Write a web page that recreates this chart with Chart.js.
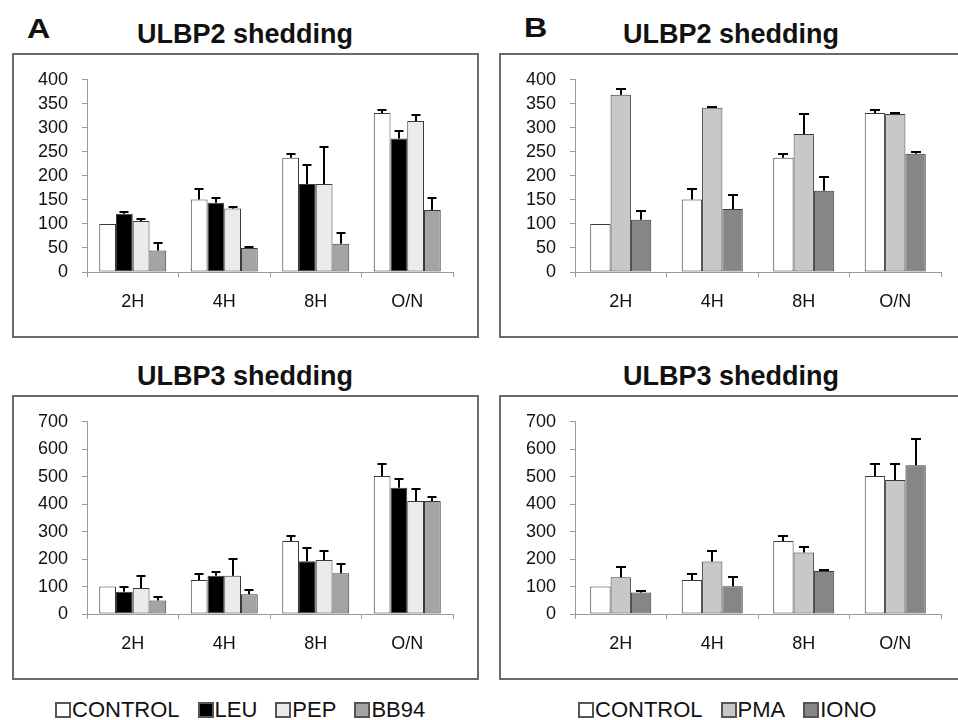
<!DOCTYPE html>
<html>
<head>
<meta charset="utf-8">
<script src="https://cdn.jsdelivr.net/npm/chart.js@4.4.0/dist/chart.umd.min.js"></script>
<style>
  html, body { margin: 0; padding: 0; background: #fff; overflow: hidden; }
  body { width: 958px; height: 720px; position: relative; font-family: "Liberation Sans", Arial, sans-serif; color: #111; }
  .letter { position: absolute; font-weight: bold; font-size: 28px; line-height: 28px; transform: scaleX(1.15); transform-origin: left top; }
  .title { position: absolute; font-weight: bold; font-size: 27px; line-height: 27px; white-space: nowrap; transform: translateX(-50%); }
  .box { position: absolute; border: 2px solid #6a6a6a; box-sizing: border-box; height: 285px; }
  .box canvas { position: absolute; left: 0; top: 0; }
  .legend { position: absolute; display: flex; align-items: center; font-size: 22px; line-height: 22px; white-space: nowrap; }
  .legend span.sw { display: inline-block; width: 12px; height: 12px; border: 2px solid #555; margin-right: 1px; }
  .legend span.lb { margin-right: 18px; }
</style>
</head>
<body>
<div class="letter" style="left:27px;top:15px;">A</div>
<div class="letter" style="left:524px;top:14px;">B</div>
<div class="title" style="left:245px;top:21px;">ULBP2 shedding</div>
<div class="title" style="left:731px;top:21px;">ULBP2 shedding</div>
<div class="title" style="left:245px;top:363px;">ULBP3 shedding</div>
<div class="title" style="left:731px;top:363px;">ULBP3 shedding</div>

<div class="box" style="left:12px;top:53px;width:467px;"><canvas id="a2" width="463" height="281"></canvas></div>
<div class="box" style="left:499px;top:53px;width:470px;"><canvas id="b2" width="466" height="281"></canvas></div>
<div class="box" style="left:12px;top:395px;width:467px;"><canvas id="a3" width="463" height="281"></canvas></div>
<div class="box" style="left:499px;top:395px;width:470px;"><canvas id="b3" width="466" height="281"></canvas></div>

<div class="legend" id="legA" style="left:55px;top:699px;"></div>
<div class="legend" id="legB" style="left:578px;top:699px;"></div>

<script>
// categories
const timepoints = ['2H', '4H', '8H', 'O/N'];

// ULBP2 shedding, panel A
const a2Control = [100, 151, 238, 331];
const a2ControlErr = [0, 21, 7, 7];
const a2Leu = [121, 144, 183, 278];
const a2LeuErr = [3, 9, 40, 16];
const a2Pep = [106, 132, 183, 314];
const a2PepErr = [4, 4, 77, 13];
const a2Bb94 = [45, 50, 59, 129];
const a2Bb94Err = [16, 3, 23, 26];

// ULBP2 shedding, panel B
const b2Control = [100, 151, 238, 331];
const b2ControlErr = [0, 21, 7, 7];
const b2Pma = [369, 342, 287, 329];
const b2PmaErr = [12, 1, 42, 1];
const b2Iono = [109, 131, 169, 246];
const b2IonoErr = [17, 29, 29, 3];

// ULBP3 shedding, panel A
const a3Control = [100, 124, 266, 503];
const a3ControlErr = [0, 21, 19, 43];
const a3Leu = [81, 139, 192, 460];
const a3LeuErr = [19, 13, 47, 30];
const a3Pep = [95, 139, 197, 412];
const a3PepErr = [43, 61, 32, 45];
const a3Bb94 = [49, 72, 148, 412];
const a3Bb94Err = [14, 16, 35, 14];

// ULBP3 shedding, panel B
const b3Control = [100, 124, 266, 503];
const b3ControlErr = [0, 21, 19, 43];
const b3Pma = [134, 191, 224, 488];
const b3PmaErr = [36, 37, 19, 60];
const b3Iono = [78, 101, 157, 542];
const b3IonoErr = [5, 35, 2, 94];

const COL = { CONTROL: '#ffffff', LEU: '#000000', PEP: '#ebebeb', BB94: '#a4a4a4', PMA: '#c8c8c8', IONO: '#868686' };

const errorBars = {
  id: 'errorBars',
  afterDatasetsDraw(chart, args, opts) {
    const ctx = chart.ctx, y = chart.scales.y;
    ctx.save();
    ctx.strokeStyle = '#000';
    ctx.lineWidth = 2;
    chart.data.datasets.forEach((ds, i) => {
      chart.getDatasetMeta(i).data.forEach((bar, j) => {
        const e = ds.err[j];
        if (!e) return;
        const top = Math.round(y.getPixelForValue(ds.data[j] + e));
        const x = Math.round(bar.x);
        ctx.beginPath();
        ctx.moveTo(x, bar.y);
        ctx.lineTo(x, top);
        ctx.moveTo(x - opts.cap / 2, top);
        ctx.lineTo(x + opts.cap / 2, top);
        ctx.stroke();
      });
    });
    ctx.restore();
  }
};

function ds(label, data, err) {
  return { label, data, err, backgroundColor: COL[label], borderColor: '#3a3a3a', borderWidth: 1, borderSkipped: false };
}

function makeChart(id, datasets, max, step, catPct, padRight, cap) {
  new Chart(document.getElementById(id), {
    type: 'bar',
    data: { labels: timepoints, datasets },
    plugins: [errorBars],
    options: {
      responsive: false, animation: false,
      layout: { padding: { top: 24, right: padRight, left: 0, bottom: 0 } },
      datasets: { bar: { categoryPercentage: catPct, barPercentage: 1 } },
      scales: {
        x: {
          grid: { offset: true, drawOnChartArea: false, tickLength: 5, color: '#9a9a9a' },
          border: { color: '#9a9a9a', width: 1 },
          ticks: { color: '#111', font: { family: 'Liberation Sans', size: 18 }, padding: 14 },
          afterFit: s => { s.height = 64; }
        },
        y: {
          min: 0, max: max,
          grid: { drawOnChartArea: false, tickLength: 5, color: '#9a9a9a' },
          border: { color: '#9a9a9a', width: 1 },
          ticks: { stepSize: step, autoSkip: false, color: '#111', font: { family: 'Liberation Sans', size: 18 }, padding: 14 },
          afterFit: s => { s.width = id[0] === 'a' ? 73 : 74; }
        }
      },
      plugins: { legend: { display: false }, tooltip: { enabled: false }, errorBars: { cap: cap } }
    }
  });
}

makeChart('a2', [ds('CONTROL', a2Control, a2ControlErr), ds('LEU', a2Leu, a2LeuErr), ds('PEP', a2Pep, a2PepErr), ds('BB94', a2Bb94, a2Bb94Err)], 400, 50, 0.732, 24, 9);
makeChart('b2', [ds('CONTROL', b2Control, b2ControlErr), ds('PMA', b2Pma, b2PmaErr), ds('IONO', b2Iono, b2IonoErr)], 400, 50, 0.667, 26, 10);
makeChart('a3', [ds('CONTROL', a3Control, a3ControlErr), ds('LEU', a3Leu, a3LeuErr), ds('PEP', a3Pep, a3PepErr), ds('BB94', a3Bb94, a3Bb94Err)], 700, 100, 0.732, 24, 9);
makeChart('b3', [ds('CONTROL', b3Control, b3ControlErr), ds('PMA', b3Pma, b3PmaErr), ds('IONO', b3Iono, b3IonoErr)], 700, 100, 0.667, 26, 10);

function legend(id, names) {
  document.getElementById(id).innerHTML = names.map(n =>
    `<span class="sw" style="background:${COL[n]}"></span><span class="lb">${n}</span>`).join('');
}
legend('legA', ['CONTROL', 'LEU', 'PEP', 'BB94']);
legend('legB', ['CONTROL', 'PMA', 'IONO']);
</script>
</body>
</html>
